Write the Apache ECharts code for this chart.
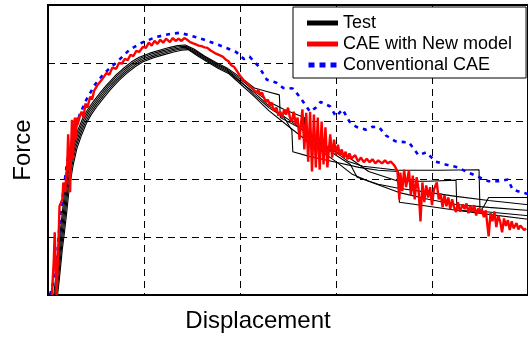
<!DOCTYPE html>
<html>
<head>
<meta charset="utf-8">
<script src="https://cdn.jsdelivr.net/npm/echarts@6/dist/echarts.min.js"></script>
<style>
html,body{margin:0;padding:0;background:#fff;}
#chart{width:528px;height:338px;}
</style>
</head>
<body>
<div id="chart"></div>
<script>
// Axis titles and legend names
const xTitle = 'Displacement';
const yTitle = 'Force';
const seriesNames = ['Test', 'CAE with New model', 'Conventional CAE'];

// Test specimens (five measured curves), [displacement, force]
const test1 = [[0.06,0],[0.08,0.3],[0.11,0.8],[0.13,1.13],[0.15,1.43],[0.18,1.90],[0.22,2.30],[0.26,2.60],[0.31,2.84],[0.36,3.04],[0.41,3.19],[0.47,3.33],[0.54,3.48],[0.61,3.62],[0.70,3.78],[0.78,3.90],[0.87,4.02],[0.95,4.10],[1.06,4.17],[1.16,4.22],[1.27,4.27],[1.35,4.30],[1.43,4.31],[1.52,4.24],[1.63,4.12],[1.75,4.01],[1.86,3.92],[1.99,3.77],[2.15,3.57],[2.28,3.51],[2.41,3.45],[2.42,3.06],[2.61,2.89],[2.82,2.65],[3.00,2.46],[3.13,2.30],[3.28,2.22],[3.65,2.15],[4.07,2.15],[4.49,2.16],[4.50,1.44],[4.54,1.53],[4.59,1.68],[4.98,1.68],[5.0,1.68]];
const test2 = [[0.07,0],[0.09,0.3],[0.12,0.8],[0.14,1.12],[0.16,1.41],[0.19,1.88],[0.23,2.28],[0.27,2.58],[0.32,2.82],[0.37,3.02],[0.42,3.17],[0.48,3.31],[0.55,3.46],[0.62,3.60],[0.71,3.76],[0.79,3.88],[0.88,4.00],[0.96,4.08],[1.07,4.15],[1.17,4.20],[1.28,4.25],[1.36,4.28],[1.44,4.29],[1.53,4.21],[1.64,4.10],[1.76,3.98],[1.86,3.90],[1.99,3.74],[2.15,3.52],[2.30,3.33],[2.46,3.20],[2.67,3.06],[2.68,2.66],[2.82,2.56],[3.00,2.47],[3.16,2.34],[3.34,2.13],[3.65,1.96],[3.96,1.96],[4.25,1.98],[4.26,1.46],[4.59,1.43],[4.98,1.37],[5.0,1.37]];
const test3 = [[0.08,0],[0.10,0.3],[0.13,0.8],[0.15,1.1],[0.17,1.39],[0.20,1.86],[0.24,2.26],[0.28,2.56],[0.33,2.80],[0.38,3.00],[0.43,3.15],[0.49,3.29],[0.56,3.44],[0.63,3.58],[0.72,3.74],[0.80,3.86],[0.89,3.98],[0.97,4.06],[1.08,4.13],[1.18,4.18],[1.29,4.23],[1.37,4.26],[1.44,4.27],[1.54,4.18],[1.65,4.07],[1.76,3.96],[1.86,3.88],[1.99,3.71],[2.15,3.45],[2.30,3.23],[2.46,3.06],[2.54,2.84],[2.55,2.47],[2.72,2.39],[3.00,2.29],[3.24,2.20],[3.44,2.15],[3.65,2.13],[3.66,1.60],[3.96,1.53],[4.25,1.46],[4.59,1.39],[4.98,1.31],[5.0,1.31]];
const test4 = [[0.09,0],[0.11,0.3],[0.14,0.8],[0.16,1.08],[0.18,1.37],[0.21,1.84],[0.25,2.24],[0.29,2.54],[0.34,2.78],[0.39,2.98],[0.44,3.13],[0.50,3.27],[0.57,3.42],[0.64,3.56],[0.73,3.72],[0.81,3.84],[0.90,3.96],[0.98,4.04],[1.09,4.11],[1.19,4.16],[1.30,4.21],[1.38,4.24],[1.45,4.25],[1.55,4.15],[1.66,4.04],[1.77,3.93],[1.87,3.85],[1.99,3.69],[2.15,3.49],[2.30,3.26],[2.51,3.02],[2.72,2.77],[3.00,2.41],[3.15,2.25],[3.22,2.03],[3.44,1.91],[3.65,1.84],[3.96,1.77],[4.25,1.70],[4.59,1.63],[4.98,1.56],[5.0,1.56]];
const test5 = [[0.10,0],[0.12,0.3],[0.15,0.8],[0.17,1.06],[0.19,1.35],[0.22,1.82],[0.26,2.22],[0.30,2.52],[0.35,2.76],[0.40,2.96],[0.45,3.11],[0.51,3.25],[0.58,3.40],[0.65,3.54],[0.74,3.70],[0.82,3.82],[0.91,3.94],[0.99,4.02],[1.10,4.09],[1.20,4.14],[1.31,4.19],[1.39,4.22],[1.46,4.23],[1.56,4.12],[1.67,4.01],[1.78,3.90],[1.88,3.82],[1.99,3.66],[2.15,3.42],[2.30,3.18],[2.51,2.90],[2.72,2.63],[3.00,2.30],[3.17,2.08],[3.34,1.96],[3.65,1.77],[3.96,1.65],[4.25,1.56],[4.59,1.51],[4.98,1.46],[5.0,1.46]];

// CAE with New model
const caeNew = [[0.04,0],[0.06,0.58],[0.07,1.08],[0.08,0.45],[0.09,0],[0.11,0.96],[0.12,1.53],[0.15,1.65],[0.16,1.94],[0.18,1.77],[0.19,2.08],[0.20,2.22],[0.21,2.77],[0.22,2.34],[0.23,1.77],[0.24,2.51],[0.25,3.02],[0.26,2.34],[0.27,2.77],[0.28,3.06],[0.29,2.68],[0.30,3.06],[0.31,2.94],[0.33,3.08],[0.35,3.16],[0.37,3.06],[0.39,3.30],[0.41,3.23],[0.44,3.42],[0.46,3.37],[0.48,3.52],[0.50,3.49],[0.52,3.63],[0.54,3.61],[0.56,3.71],[0.58,3.68],[0.61,3.83],[0.64,3.80],[0.67,3.92],[0.71,3.90],[0.74,4.00],[0.77,3.99],[0.80,4.07],[0.83,4.05],[0.86,4.14],[0.89,4.12],[0.92,4.21],[0.95,4.19],[0.99,4.28],[1.02,4.26],[1.05,4.35],[1.08,4.30],[1.11,4.38],[1.14,4.33],[1.17,4.40],[1.20,4.35],[1.23,4.42],[1.27,4.36],[1.30,4.43],[1.33,4.38],[1.36,4.42],[1.39,4.38],[1.42,4.43],[1.45,4.40],[1.47,4.41],[1.48,4.36],[1.50,4.33],[1.54,4.32],[1.57,4.30],[1.60,4.29],[1.63,4.27],[1.66,4.26],[1.69,4.22],[1.72,4.19],[1.75,4.16],[1.78,4.14],[1.82,4.11],[1.85,4.06],[1.88,4.03],[1.91,3.96],[1.94,3.93],[1.96,3.88],[1.98,3.86],[2.00,3.78],[2.02,3.74],[2.04,3.70],[2.06,3.71],[2.09,3.63],[2.11,3.66],[2.13,3.56],[2.15,3.59],[2.17,3.49],[2.19,3.54],[2.21,3.45],[2.23,3.49],[2.25,3.40],[2.27,3.33],[2.29,3.37],[2.31,3.26],[2.33,3.32],[2.35,3.18],[2.38,3.23],[2.40,3.09],[2.42,3.16],[2.44,3.06],[2.46,3.20],[2.48,3.11],[2.50,3.23],[2.52,3.06],[2.54,2.99],[2.56,3.16],[2.58,2.94],[2.60,3.06],[2.62,2.68],[2.65,3.20],[2.67,2.51],[2.69,3.14],[2.71,2.30],[2.73,3.16],[2.75,2.13],[2.77,3.11],[2.79,2.20],[2.81,3.06],[2.83,2.16],[2.85,2.99],[2.87,2.25],[2.89,2.89],[2.91,2.20],[2.94,2.77],[2.96,2.37],[2.98,2.68],[3.00,2.42],[3.02,2.59],[3.04,2.41],[3.06,2.51],[3.08,2.37],[3.10,2.47],[3.12,2.34],[3.14,2.44],[3.16,2.35],[3.20,2.41],[3.23,2.30],[3.26,2.37],[3.29,2.29],[3.32,2.35],[3.35,2.29],[3.38,2.34],[3.41,2.27],[3.44,2.32],[3.48,2.27],[3.51,2.32],[3.54,2.27],[3.57,2.30],[3.60,2.25],[3.62,2.20],[3.64,2.13],[3.66,1.65],[3.67,2.11],[3.69,1.79],[3.71,2.16],[3.73,1.86],[3.76,2.15],[3.78,1.72],[3.80,2.06],[3.82,1.65],[3.84,2.03],[3.86,1.82],[3.88,1.27],[3.90,1.94],[3.92,1.60],[3.94,1.89],[3.96,1.68],[3.98,1.86],[4.00,1.55],[4.02,1.82],[4.05,1.94],[4.07,1.65],[4.09,1.75],[4.11,1.51],[4.13,1.72],[4.15,1.53],[4.17,1.68],[4.19,1.48],[4.21,1.65],[4.23,1.51],[4.25,1.43],[4.27,1.60],[4.29,1.44],[4.32,1.56],[4.34,1.48],[4.36,1.58],[4.38,1.41],[4.40,1.53],[4.42,1.44],[4.44,1.55],[4.46,1.37],[4.48,1.49],[4.50,1.41],[4.52,1.48],[4.54,1.34],[4.56,1.46],[4.59,1.01],[4.61,1.41],[4.63,1.27],[4.65,1.44],[4.67,1.17],[4.69,1.37],[4.71,1.27],[4.73,1.08],[4.75,1.32],[4.77,1.19],[4.79,1.29],[4.81,1.12],[4.83,1.27],[4.85,1.15],[4.88,1.24],[4.90,1.13],[4.92,1.20],[4.94,1.17],[4.96,1.12],[4.98,1.15]];

// Conventional CAE
const caeConv = [[0.02,0],[0.04,0.10],[0.07,0.36],[0.10,0.79],[0.13,1.39],[0.17,1.91],[0.20,2.30],[0.26,2.71],[0.33,3.11],[0.40,3.37],[0.49,3.63],[0.59,3.83],[0.72,4.02],[0.85,4.23],[0.99,4.36],[1.13,4.45],[1.27,4.50],[1.37,4.52],[1.47,4.48],[1.63,4.40],[1.78,4.31],[1.96,4.19],[2.04,4.07],[2.10,4.11],[2.20,3.93],[2.28,3.71],[2.38,3.66],[2.45,3.57],[2.55,3.56],[2.62,3.42],[2.73,3.16],[2.79,3.23],[2.84,3.33],[2.94,3.25],[3.00,3.08],[3.07,3.20],[3.14,2.99],[3.21,2.90],[3.31,2.85],[3.38,2.90],[3.45,2.89],[3.52,2.75],[3.62,2.65],[3.76,2.63],[3.86,2.41],[3.94,2.46],[4.04,2.30],[4.14,2.25],[4.27,2.20],[4.38,2.11],[4.48,2.04],[4.59,1.96],[4.69,1.96],[4.79,1.99],[4.84,1.82],[4.93,1.77],[4.98,1.75],[5.00,1.74]];

const tests = [test1, test2, test3, test4, test5];

const FONT = 'Liberation Sans, Arial, sans-serif';
const chart = echarts.init(document.getElementById('chart'), null, {renderer: 'canvas'});

const series = [];
tests.forEach(function (d) {
  series.push({
    name: seriesNames[0], type: 'line', data: d, symbol: 'none', showSymbol: false,
    lineStyle: {color: '#000', width: 1.1}, itemStyle: {color: '#000'},
    silent: true, animation: false, z: 2
  });
});
series.push({
  name: seriesNames[2], type: 'line', data: caeConv, symbol: 'none', showSymbol: false,
  lineStyle: {color: '#0000ff', width: 2.6, type: [4, 5]}, itemStyle: {color: '#0000ff'},
  silent: true, animation: false, z: 3
});
series.push({
  name: seriesNames[1], type: 'line', data: caeNew, symbol: 'none', showSymbol: false,
  lineStyle: {color: '#ff0000', width: 2.4}, itemStyle: {color: '#ff0000'},
  silent: true, animation: false, z: 4
});

const gridLine = {show: true, lineStyle: {color: '#000', width: 1, type: [7, 5]}};

chart.setOption({
  animation: false,
  backgroundColor: '#fff',
  grid: {left: 48, right: -2, top: 5, bottom: 42, show: true, borderColor: '#000', borderWidth: 2, backgroundColor: 'transparent'},
  xAxis: {
    type: 'value', min: 0, max: 5, interval: 1,
    axisLabel: {show: false}, axisTick: {show: false},
    axisLine: {show: true, lineStyle: {color: '#000', width: 2}},
    splitLine: gridLine,
    name: xTitle, nameLocation: 'middle', nameGap: 14,
    nameTextStyle: {fontSize: 24, color: '#000', fontFamily: FONT, padding: [0, 60, 0, 0]}
  },
  yAxis: {
    type: 'value', min: 0, max: 5, interval: 1,
    axisLabel: {show: false}, axisTick: {show: false},
    axisLine: {show: true, lineStyle: {color: '#000', width: 2}},
    splitLine: gridLine,
    name: yTitle, nameLocation: 'middle', nameGap: 13, nameRotate: 90,
    nameTextStyle: {fontSize: 24, color: '#000', fontFamily: FONT}
  },
  legend: {
    left: 293, top: 7, orient: 'vertical',
    backgroundColor: '#fff', borderColor: '#000', borderWidth: 1, borderRadius: 0,
    padding: [6, 14, 3, 14],
    itemWidth: 31, itemHeight: 5, itemGap: 1,
    selectedMode: false,
    itemStyle: {borderWidth: 0},
    textStyle: {fontSize: 18, color: '#000', fontFamily: FONT, lineHeight: 20},
    data: [
      {name: seriesNames[0], icon: 'rect'},
      {name: seriesNames[1], icon: 'rect'},
      {name: seriesNames[2], icon: 'path://M0,0H6V5H0Z M11,0H17V5H11Z M22,0H28V5H22Z'}
    ]
  },
  series: series
});
</script>
</body>
</html>
